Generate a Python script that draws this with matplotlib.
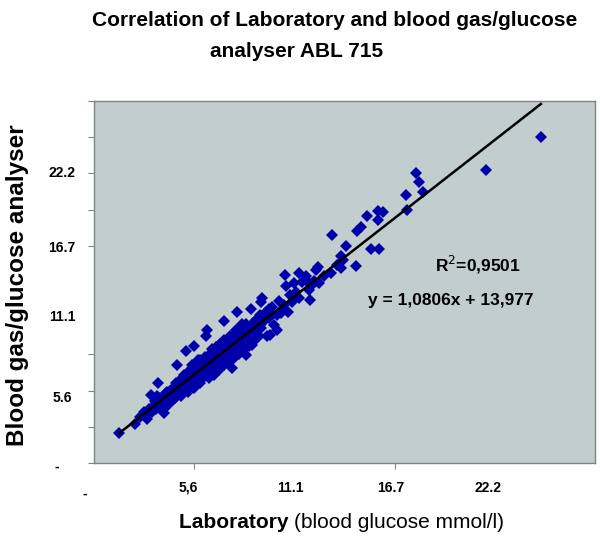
import matplotlib.pyplot as plt
import numpy as np

# laboratory glucose (x) vs ABL 715 glucose (y), both in mg/dl
lab = [25, 41, 53, 46, 50, 52, 55, 57, 58, 60,
       61, 62, 63, 64, 65, 66, 67, 68, 70, 70,
       71, 72, 73, 74, 75, 76, 77, 78, 79, 80,
       81, 82, 83, 84, 85, 85, 86, 87, 88, 88,
       89, 90, 90, 91, 92, 92, 93, 94, 94, 95,
       96, 96, 97, 98, 98, 99, 100, 100, 100, 101,
       102, 103, 104, 104, 105, 106, 106, 107, 108, 109,
       110, 110, 111, 112, 112, 113, 113, 114, 115, 116,
       116, 117, 118, 119, 120, 120, 121, 122, 123, 124,
       125, 126, 126, 127, 128, 129, 130, 130, 131, 132,
       133, 134, 135, 136, 137, 138, 138, 139, 140, 141,
       142, 143, 143, 144, 145, 146, 147, 148, 149, 150,
       152, 152, 153, 155, 156, 157, 158, 159, 160, 162,
       164, 165, 166, 167, 167, 168, 170, 172, 173, 175,
       175, 176, 178, 180, 183, 183, 185, 187, 190, 191,
       192, 194, 196, 198, 200, 202, 205, 205, 208, 212,
       215, 215, 216, 217, 220, 222, 224, 225, 230, 237,
       238, 242, 246, 246, 248, 251, 261, 262, 266, 272,
       276, 283, 283, 284, 288, 311, 312, 321, 324, 328,
       391, 446,
       102, 108, 114, 118, 122, 128, 134, 140, 146, 150,
       84, 92, 78, 72, 66, 110, 124, 136,
       58, 62, 66, 69, 72, 75, 79, 82, 86, 89,
       93, 97, 101, 105, 109, 113, 117, 121, 125, 129,
       133, 137, 141, 145, 149, 154, 158, 162, 166, 170,
       64, 83, 115, 120, 125, 130, 135, 140, 145, 150,
       155, 160, 98, 104, 118, 124, 130, 136, 142, 148]
abl = [41, 54, 61, 64, 70, 66, 75, 94, 70, 80,
       86, 74, 92, 79, 84, 76, 88, 82, 69, 92,
       85, 78, 98, 88, 83, 100, 92, 86, 104, 96,
       90, 110, 101, 94, 106, 113, 99, 92, 116, 105,
       100, 110, 121, 104, 154, 116, 108, 125, 98, 113,
       120, 106, 128, 116, 110, 124, 161, 118, 104, 130,
       122, 113, 136, 126, 119, 110, 142, 130, 124, 117,
       138, 130, 147, 175, 125, 184, 135, 120, 142, 150,
       132, 126, 145, 156, 138, 130, 148, 160, 141, 134,
       152, 165, 146, 138, 157, 150, 196, 162, 144, 155,
       170, 160, 150, 166, 174, 131, 158, 152, 168, 162,
       178, 208, 171, 156, 184, 166, 175, 188, 170, 180,
       149, 192, 176, 186, 170, 212, 163, 194, 182, 198,
       190, 176, 204, 222, 186, 228, 196, 208, 175, 213,
       200, 177, 216, 190, 205, 184, 224, 207, 218, 259,
       245, 209, 232, 222, 248, 236, 263, 228, 250, 258,
       248, 239, 225, 244, 252, 266, 271, 249, 258, 262,
       315, 274, 286, 270, 280, 300, 272, 321, 326, 341,
       296, 348, 335, 296, 346, 370, 350, 401, 388, 374,
       404, 450,
       128, 134, 128, 140, 150, 146, 150, 156, 176, 172,
       104, 112, 96, 90, 84, 122, 144, 158,
       76, 82, 90, 86, 96, 94, 92, 98, 108, 112,
       118, 116, 112, 132, 128, 142, 136, 132, 140, 158,
       152, 164, 170, 160, 186, 180, 190, 184, 190, 204,
       111, 135, 118, 122, 128, 135, 140, 145, 150, 158,
       162, 168, 136, 142, 158, 162, 170, 176, 184, 192]

# Excel trendline
slope = 1.0806
intercept = 13.977
r2_text = "R$^2$=0,9501"
eq_text = "y = 1,0806x + 13,977"

# hand placed mmol/l labels
y_tick_text = ["22.2", "16.7", "11.1", "5.6", "-"]
y_tick_at = [400, 297, 202, 90, -5]
x_tick_text = ["-", "5,6", "11.1", "16.7", "22.2"]
x_tick_at = [-9, 94, 196, 296, 393]

plt.rcParams['font.family'] = ['Liberation Sans', 'DejaVu Sans']

fig = plt.figure(figsize=(6.0, 5.45), dpi=100)
ax = fig.add_axes([0.1567, 0.1505, 0.835, 0.6642])
ax.set_facecolor('#c2cdcd')
for s in ax.spines.values():
    s.set_color('#7f8585')
    s.set_linewidth(1.0)

ax.plot(lab, abl, 'D', color='#0000aa', markersize=5.8, markeredgewidth=0, zorder=2)

xl = np.array([min(lab), max(lab)])
ax.plot(xl, slope * xl + intercept, color='black', lw=1.8, zorder=3)

ax.set_xlim(0, 500)
ax.set_ylim(0, 500)
ax.set_xticks([100, 300])
ax.set_yticks([0, 50, 100, 150, 300, 350, 400, 450, 500])
ax.tick_params(axis='both', direction='out', length=4, color='#7f8585', labelleft=False, labelbottom=False)

ax.text(383, 274, r2_text, fontsize=12.5, fontweight='bold', ha='center', va='center')
ax.text(356, 224, eq_text, fontsize=12.5, fontweight='bold', ha='center', va='center')

for t, v in zip(y_tick_text, y_tick_at):
    xx = -0.075 if t == "-" else -0.064
    ax.text(xx, v, t, transform=ax.get_yaxis_transform(), fontsize=10,
            fontweight='bold', ha='center', va='center')
for t, v in zip(x_tick_text, x_tick_at):
    yy = -0.085 if t == "-" else -0.069
    ax.text(v, yy, t, transform=ax.get_xaxis_transform(), fontsize=10,
            fontweight='bold', ha='center', va='center')

fig.text(335 / 600, 1 - 21 / 545, "Correlation of Laboratory and blood gas/glucose",
         fontsize=15, fontweight='bold', ha='center', va='center')
fig.text(297 / 600, 1 - 51 / 545, "analyser ABL 715",
         fontsize=15, fontweight='bold', ha='center', va='center')

fig.text(18 / 600, 1 - 285 / 545, "Blood gas/glucose analyser", rotation=90,
         fontsize=17.5, fontweight='bold', ha='center', va='center')

xlab1 = fig.text(179 / 600, 1 - 523 / 545, "Laboratory ", fontsize=15,
                 fontweight='bold', ha='left', va='center')
fig.canvas.draw()
bb = xlab1.get_window_extent()
fig.text(bb.x1 / fig.bbox.width, 1 - 523 / 545, "(blood glucose mmol/l)", fontsize=15,
         ha='left', va='center')

fig.savefig('out.png', dpi=100)
